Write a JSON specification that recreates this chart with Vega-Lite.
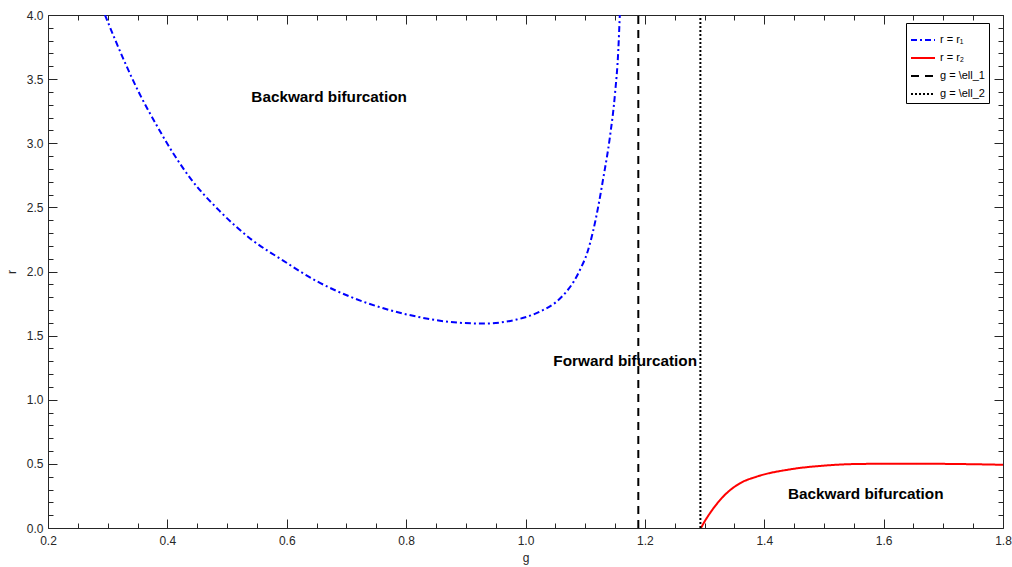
{
  "$schema": "https://vega.github.io/schema/vega-lite/v6.json",
  "width": 955,
  "height": 513,
  "autosize": {"type": "none"},
  "padding": {"left": 48, "top": 15, "right": 9, "bottom": 39},
  "background": "white",
  "config": {
    "view": {"stroke": null},
    "font": "Liberation Sans",
    "axis": {
      "labelFont": "Liberation Sans",
      "labelFontSize": 12,
      "labelColor": "#262626",
      "titleFont": "Liberation Sans",
      "titleFontSize": 12,
      "titleFontWeight": "normal",
      "titleColor": "#262626",
      "domainColor": "#262626",
      "tickColor": "#262626",
      "domainWidth": 1,
      "tickWidth": 1,
      "grid": false
    }
  },
  "datasets": {
    "curves": [
      {"series": "r = r₁", "g": 0.2955, "r": 4.0},
      {"series": "r = r₁", "g": 0.326, "r": 3.66},
      {"series": "r = r₁", "g": 0.354, "r": 3.38},
      {"series": "r = r₁", "g": 0.382, "r": 3.14},
      {"series": "r = r₁", "g": 0.410, "r": 2.92},
      {"series": "r = r₁", "g": 0.438, "r": 2.73},
      {"series": "r = r₁", "g": 0.488, "r": 2.47},
      {"series": "r = r₁", "g": 0.538, "r": 2.26},
      {"series": "r = r₁", "g": 0.594, "r": 2.085},
      {"series": "r = r₁", "g": 0.650, "r": 1.925},
      {"series": "r = r₁", "g": 0.706, "r": 1.804},
      {"series": "r = r₁", "g": 0.762, "r": 1.713},
      {"series": "r = r₁", "g": 0.818, "r": 1.648},
      {"series": "r = r₁", "g": 0.873, "r": 1.607},
      {"series": "r = r₁", "g": 0.929, "r": 1.594},
      {"series": "r = r₁", "g": 0.985, "r": 1.625},
      {"series": "r = r₁", "g": 1.024, "r": 1.687},
      {"series": "r = r₁", "g": 1.052, "r": 1.765},
      {"series": "r = r₁", "g": 1.068, "r": 1.84},
      {"series": "r = r₁", "g": 1.080, "r": 1.915},
      {"series": "r = r₁", "g": 1.092, "r": 2.02},
      {"series": "r = r₁", "g": 1.103, "r": 2.14},
      {"series": "r = r₁", "g": 1.113, "r": 2.31},
      {"series": "r = r₁", "g": 1.122, "r": 2.51},
      {"series": "r = r₁", "g": 1.130, "r": 2.72},
      {"series": "r = r₁", "g": 1.1415, "r": 3.051},
      {"series": "r = r₁", "g": 1.150, "r": 3.389},
      {"series": "r = r₁", "g": 1.1555, "r": 3.727},
      {"series": "r = r₁", "g": 1.158, "r": 4.0},
      {"series": "r = r₂", "g": 1.294, "r": 0.0},
      {"series": "r = r₂", "g": 1.300, "r": 0.05},
      {"series": "r = r₂", "g": 1.309, "r": 0.115},
      {"series": "r = r₂", "g": 1.331, "r": 0.244},
      {"series": "r = r₂", "g": 1.359, "r": 0.348},
      {"series": "r = r₂", "g": 1.387, "r": 0.400},
      {"series": "r = r₂", "g": 1.443, "r": 0.457},
      {"series": "r = r₂", "g": 1.499, "r": 0.486},
      {"series": "r = r₂", "g": 1.555, "r": 0.499},
      {"series": "r = r₂", "g": 1.611, "r": 0.501},
      {"series": "r = r₂", "g": 1.666, "r": 0.501},
      {"series": "r = r₂", "g": 1.722, "r": 0.499},
      {"series": "r = r₂", "g": 1.800, "r": 0.493}
    ],
    "vlines": [
      {"series": "g = \\ell_1", "g": 1.189, "r": 0},
      {"series": "g = \\ell_1", "g": 1.189, "r": 4},
      {"series": "g = \\ell_2", "g": 1.293, "r": 0},
      {"series": "g = \\ell_2", "g": 1.293, "r": 4}
    ],
    "labels": [
      {"label": "Backward bifurcation", "g": 0.671, "r": 3.36},
      {"label": "Forward bifurcation", "g": 1.167, "r": 1.30},
      {"label": "Backward bifurcation", "g": 1.570, "r": 0.265}
    ]
  },
  "layer": [
    {
      "data": {"name": "curves"},
      "mark": {"type": "line", "strokeWidth": 2, "interpolate": "monotone", "clip": true},
      "encoding": {
        "x": {
          "field": "g", "type": "quantitative", "title": "g",
          "scale": {"domain": [0.2, 1.8], "nice": false, "zero": false},
          "axis": {
            "orient": "bottom",
            "values": [0.2,0.25,0.3,0.35,0.4,0.45,0.5,0.55,0.6,0.65,0.7,0.75,0.8,0.85,0.9,0.95,1.0,1.05,1.1,1.15,1.2,1.25,1.3,1.35,1.4,1.45,1.5,1.55,1.6,1.65,1.7,1.75,1.8],
            "labelExpr": "abs(datum.value*5 - round(datum.value*5)) < 0.001 ? format(datum.value, '.1f') : ''",
            "tickSize": {"condition": {"test": "abs(datum.value*5 - round(datum.value*5)) < 0.001", "value": -9}, "value": -5},
            "labelPadding": 16,
            "labelFlush": false,
            "labelOverlap": false,
            "titlePadding": 2
          }
        },
        "y": {
          "field": "r", "type": "quantitative", "title": "r",
          "scale": {"domain": [0, 4], "nice": false, "zero": false},
          "axis": {
            "orient": "left",
            "values": [0,0.1,0.2,0.3,0.4,0.5,0.6,0.7,0.8,0.9,1.0,1.1,1.2,1.3,1.4,1.5,1.6,1.7,1.8,1.9,2.0,2.1,2.2,2.3,2.4,2.5,2.6,2.7,2.8,2.9,3.0,3.1,3.2,3.3,3.4,3.5,3.6,3.7,3.8,3.9,4.0],
            "labelExpr": "abs(datum.value*2 - round(datum.value*2)) < 0.001 ? format(datum.value, '.1f') : ''",
            "tickSize": {"condition": {"test": "abs(datum.value*2 - round(datum.value*2)) < 0.001", "value": -9}, "value": -5},
            "labelPadding": 14,
            "labelFlush": false,
            "labelOverlap": false,
            "titlePadding": 8
          }
        },
        "color": {
          "field": "series", "type": "nominal",
          "scale": {"domain": ["r = r₁", "r = r₂", "g = \\ell_1", "g = \\ell_2"], "range": ["#0000ff", "#ff0000", "#000000", "#000000"]},
          "legend": {
            "title": null,
            "orient": "none",
            "legendX": 858,
            "legendY": 8,
            "symbolType": "stroke",
            "symbolSize": 576,
            "symbolStrokeWidth": 2,
            "labelFont": "Liberation Sans",
            "labelFontSize": 11,
            "labelColor": "#000000",
            "labelOffset": 4,
            "rowPadding": -6,
            "padding": 4,
            "strokeColor": "#000000",
            "fillColor": "#ffffff"
          }
        },
        "strokeDash": {
          "field": "series", "type": "nominal",
          "scale": {"domain": ["r = r₁", "r = r₂", "g = \\ell_1", "g = \\ell_2"], "range": [[6, 3, 2, 3], [1, 0], [8, 6], [2, 2]]},
          "legend": null
        }
      }
    },
    {
      "data": {"name": "vlines"},
      "mark": {"type": "line", "strokeWidth": 2, "clip": true},
      "encoding": {
        "x": {"field": "g", "type": "quantitative", "axis": null},
        "y": {"field": "r", "type": "quantitative", "axis": null},
        "detail": {"field": "series", "type": "nominal"},
        "color": {"field": "series", "type": "nominal"},
        "strokeDash": {"field": "series", "type": "nominal"}
      }
    },
    {
      "data": {"name": "labels"},
      "mark": {"type": "text", "font": "Liberation Sans", "fontSize": 15.3, "fontWeight": "bold", "color": "#000000"},
      "encoding": {
        "x": {
          "field": "g", "type": "quantitative",
          "axis": {
            "orient": "top", "title": null, "labels": false,
            "values": [0.2,0.25,0.3,0.35,0.4,0.45,0.5,0.55,0.6,0.65,0.7,0.75,0.8,0.85,0.9,0.95,1.0,1.05,1.1,1.15,1.2,1.25,1.3,1.35,1.4,1.45,1.5,1.55,1.6,1.65,1.7,1.75,1.8],
            "tickSize": {"condition": {"test": "abs(datum.value*5 - round(datum.value*5)) < 0.001", "value": -9}, "value": -5}
          }
        },
        "y": {
          "field": "r", "type": "quantitative",
          "axis": {
            "orient": "right", "title": null, "labels": false,
            "values": [0,0.1,0.2,0.3,0.4,0.5,0.6,0.7,0.8,0.9,1.0,1.1,1.2,1.3,1.4,1.5,1.6,1.7,1.8,1.9,2.0,2.1,2.2,2.3,2.4,2.5,2.6,2.7,2.8,2.9,3.0,3.1,3.2,3.3,3.4,3.5,3.6,3.7,3.8,3.9,4.0],
            "tickSize": {"condition": {"test": "abs(datum.value*2 - round(datum.value*2)) < 0.001", "value": -9}, "value": -5}
          }
        },
        "text": {"field": "label", "type": "nominal"}
      }
    }
  ],
  "resolve": {"axis": {"x": "independent", "y": "independent"}}
}
